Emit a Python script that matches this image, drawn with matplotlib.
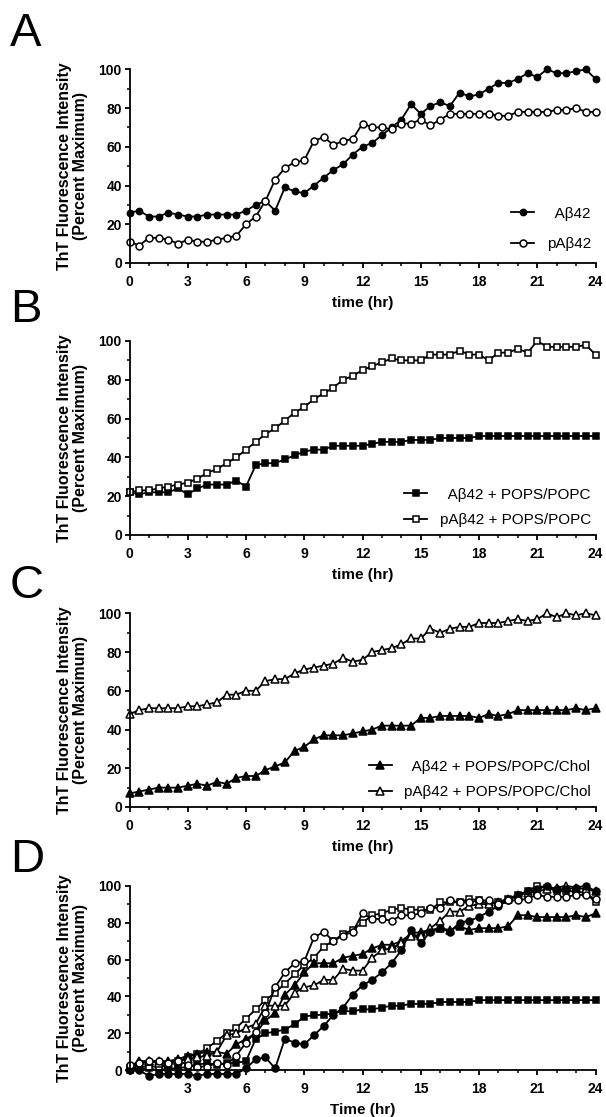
import numpy as np
import matplotlib
matplotlib.use("Agg")
import matplotlib.pyplot as plt
from matplotlib.ticker import MultipleLocator

plt.rcParams['font.family'] = ['Liberation Sans', 'DejaVu Sans']

# time points (hr), every 30 min
time_hr = np.arange(0, 24.5, 0.5)

# panel A
a_abeta = [26, 27, 24, 24, 26, 25, 24, 24, 25, 25, 25, 25, 27, 30, 32, 27, 39, 37, 36, 40,
           44, 48, 51, 56, 60, 62, 66, 70, 74, 82, 77, 81, 83, 81, 88, 86, 87, 90, 93, 93,
           95, 98, 96, 100, 98, 98, 99, 100, 95]
a_pabeta = [11, 9, 13, 13, 12, 10, 12, 11, 11, 12, 13, 14, 20, 24, 32, 43, 49, 52, 53, 63,
            65, 61, 63, 64, 72, 70, 70, 69, 72, 72, 74, 71, 74, 77, 77, 77, 77, 77, 76, 76,
            78, 78, 78, 78, 79, 79, 80, 78, 78]

# panel B
b_abeta = [22, 21, 22, 22, 22, 24, 21, 24, 26, 26, 26, 28, 25, 36, 37, 37, 39, 41, 43, 44,
           44, 46, 46, 46, 46, 47, 48, 48, 48, 49, 49, 49, 50, 50, 50, 50, 51, 51, 51, 51,
           51, 51, 51, 51, 51, 51, 51, 51, 51]
b_pabeta = [22, 23, 23, 24, 25, 26, 27, 29, 32, 34, 37, 40, 44, 48, 52, 55, 59, 63, 66, 70,
            73, 76, 80, 82, 85, 87, 89, 91, 90, 90, 90, 93, 93, 93, 95, 93, 93, 90, 94, 94,
            96, 94, 100, 97, 97, 97, 97, 98, 93]

# panel C
c_abeta = [7, 8, 9, 10, 10, 10, 11, 12, 11, 13, 12, 15, 16, 16, 19, 21, 23, 29, 31, 35,
           37, 37, 37, 38, 39, 40, 42, 42, 42, 42, 46, 46, 47, 47, 47, 47, 46, 48, 47, 48,
           50, 50, 50, 50, 50, 50, 51, 50, 51]
c_pabeta = [48, 50, 51, 51, 51, 51, 52, 52, 53, 54, 58, 58, 60, 60, 65, 66, 66, 69, 71, 72,
            73, 74, 77, 75, 76, 80, 81, 82, 84, 87, 87, 92, 90, 92, 93, 93, 95, 95, 95, 96,
            97, 96, 97, 100, 98, 100, 99, 100, 99]

# panel D
d_abeta = [0, 0, -3, -2, -2, -2, -2, -3, -2, -2, -2, -2, 1, 6, 7, 1, 17, 15, 14, 19,
           24, 30, 34, 41, 46, 49, 53, 58, 65, 76, 69, 75, 77, 75, 80, 81, 83, 86, 89, 92,
           95, 97, 98, 100, 98, 98, 99, 100, 97]
d_pabeta = [3, 4, 5, 5, 4, 5, 3, 2, 2, 4, 3, 8, 15, 21, 31, 45, 53, 58, 59, 72,
            75, 70, 73, 75, 85, 82, 82, 81, 84, 84, 85, 88, 88, 92, 91, 91, 92, 92, 90, 92,
            92, 93, 95, 94, 94, 94, 95, 95, 93]
d_abeta_pc = [0, 1, 1, 0, 1, 1, 2, 3, 4, 3, 4, 4, 5, 17, 20, 21, 22, 25, 29, 30,
              30, 31, 32, 32, 33, 33, 34, 35, 35, 36, 36, 36, 37, 37, 37, 37, 38, 38, 38, 38,
              38, 38, 38, 38, 38, 38, 38, 38, 38]
d_pabeta_pc = [1, 2, 2, 2, 3, 5, 7, 9, 12, 16, 20, 23, 28, 33, 38, 42, 47, 52, 57, 61,
               67, 70, 74, 76, 80, 84, 85, 87, 88, 87, 87, 87, 91, 91, 91, 93, 92, 90, 91, 93,
               95, 97, 100, 99, 97, 97, 97, 96, 91]
d_abeta_chol = [2, 5, 5, 5, 5, 6, 8, 9, 10, 10, 9, 14, 17, 20, 27, 31, 41, 46, 53, 58,
                58, 58, 61, 62, 63, 66, 68, 68, 70, 74, 75, 76, 77, 76, 78, 76, 77, 77, 77, 78,
                84, 84, 83, 83, 83, 83, 84, 83, 85]
d_pabeta_chol = [2, 3, 5, 4, 4, 5, 6, 7, 8, 10, 19, 20, 23, 25, 35, 35, 35, 42, 45, 46,
                 49, 49, 55, 54, 54, 61, 65, 66, 69, 73, 73, 77, 81, 86, 86, 89, 90, 90, 91, 93,
                 95, 96, 97, 98, 99, 100, 99, 98, 97]

W, H = 606, 1117
LEFT, RIGHT = 129.5, 595.5


def add_panel(fig, top, bottom):
    """
     add axes given pixel top/bottom
      """
    return fig.add_axes([LEFT / W, 1 - bottom / H, (RIGHT - LEFT) / W, (bottom - top) / H])


def style_axes(ax, xlabel, show_zero=True):
    """
     Prism-like axes
      """
    ax.set_xlim(0, 24)
    ax.set_ylim(0, 100)
    for side in ['top', 'right']:
        ax.spines[side].set_visible(False)
    for side in ['left', 'bottom']:
        ax.spines[side].set_linewidth(1.3)
    ax.xaxis.set_major_locator(MultipleLocator(3))
    ax.xaxis.set_minor_locator(MultipleLocator(1))
    ax.yaxis.set_major_locator(MultipleLocator(20))
    ax.yaxis.set_minor_locator(MultipleLocator(10))
    ax.tick_params(which='major', direction='out', length=3.5, width=1.3, labelsize=10, pad=2)
    ax.tick_params(axis='x', which='major', pad=5)
    ax.tick_params(which='minor', direction='out', length=2, width=1.1)
    for lab in ax.get_xticklabels() + ax.get_yticklabels():
        lab.set_fontweight('bold')
    if not show_zero:
        ax.set_xticks(np.arange(0, 25, 3))
        ax.set_xticklabels([''] + [str(v) for v in range(3, 25, 3)], fontweight='bold')
    ax.set_ylabel('ThT Fluorescence Intensity\n(Percent Maximum)', fontsize=11.5,
                  fontweight='bold', labelpad=7.5, linespacing=1.1)
    ax.set_xlabel(xlabel, fontsize=11, fontweight='bold', labelpad=5)


def series(ax, y, marker, filled, label=None, ms=5.0):
    ax.plot(time_hr, y, color='black', lw=1.3, marker=marker, ms=ms, mew=1.1,
            mfc='black' if filled else 'white', mec='black', label=label, clip_on=False)


def legend(ax, y_anchor, spacing=0.75):
    ax.legend(loc='lower right', bbox_to_anchor=(0.99, y_anchor), frameon=False, fontsize=11,
              handlelength=1.5, handletextpad=0.8, labelspacing=spacing, borderpad=0,
              borderaxespad=0)


fig = plt.figure(figsize=(W / 100, H / 100), dpi=100)

# A
ax = add_panel(fig, 69.3, 263)
series(ax, a_abeta, 'o', True, '  A\u03b242', ms=4.5)
series(ax, a_pabeta, 'o', False, 'pA\u03b242')
style_axes(ax, 'time (hr)')
legend(ax, 0.06, spacing=1.1)
fig.text(10 / W, 1 - 46 / H, 'A', fontsize=34)

# B
ax = add_panel(fig, 341, 535)
series(ax, b_abeta, 's', True, '  A\u03b242 + POPS/POPC')
series(ax, b_pabeta, 's', False, 'pA\u03b242 + POPS/POPC')
style_axes(ax, 'time (hr)')
legend(ax, 0.04)
fig.text(10 / W, 1 - 322 / H, 'B', fontsize=34)

# C
ax = add_panel(fig, 613.3, 807)
series(ax, c_abeta, '^', True, '  A\u03b242 + POPS/POPC/Chol', ms=5.5)
series(ax, c_pabeta, '^', False, 'pA\u03b242 + POPS/POPC/Chol', ms=5.5)
style_axes(ax, 'time (hr)')
legend(ax, 0.04)
fig.text(10 / W, 1 - 598 / H, 'C', fontsize=34)

# D
ax = add_panel(fig, 885.7, 1070.3)
series(ax, d_abeta_pc, 's', True)
series(ax, d_pabeta_pc, 's', False)
series(ax, d_abeta_chol, '^', True, ms=5.5)
series(ax, d_pabeta_chol, '^', False, ms=5.5)
series(ax, d_abeta, 'o', True)
series(ax, d_pabeta, 'o', False)
style_axes(ax, 'Time (hr)', show_zero=False)
fig.text(10 / W, 1 - 872 / H, 'D', fontsize=34)

fig.savefig('out.png', dpi=100)
